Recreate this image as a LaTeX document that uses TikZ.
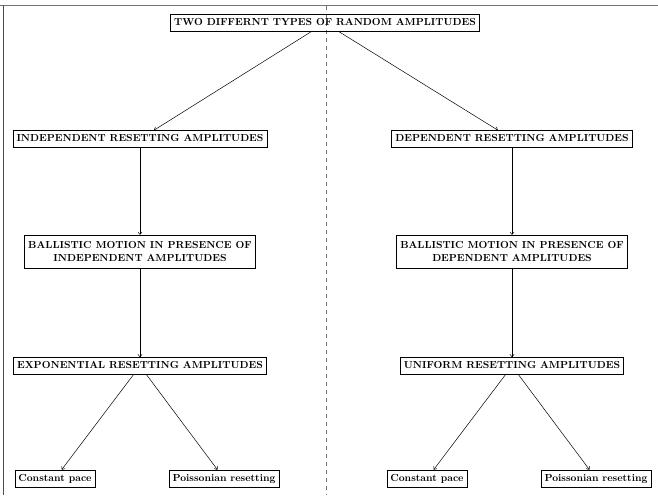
\documentclass[tikz,border=0pt]{standalone}
\usetikzlibrary{arrows.meta}
\begin{document}
\begin{tikzpicture}[x=1pt,y=-1pt,
  boxbase/.style={draw=black,line width=0.7pt,font=\fontsize{10.2}{13}\selectfont\bfseries,
    inner xsep=3.5pt,align=center},
  box/.style={boxbase,text height=7.5pt,text depth=2.5pt,inner ysep=3.5pt},
  boxtwo/.style={boxbase,inner ysep=6.3pt},
  arr/.style={-{To[length=3pt,width=4.5pt]},line width=0.5pt},
  frame/.style={black!55,line width=1.2pt}]
\useasboundingbox (0,0) rectangle (658,495);
\draw[frame] (0,5.5) -- (658,5.5);
\draw[black!70,line width=0.8pt] (3.5,5) -- (3.5,495);
\draw[black!55,line width=1pt,dash pattern=on 4pt off 4pt] (326,6) -- (326,495);

\node[box] (top) at (325,23) {TWO DIFFERNT TYPES OF RANDOM AMPLITUDES};
\node[box] (ind) at (140,139) {INDEPENDENT RESETTING AMPLITUDES};
\node[box] (dep) at (512,139) {DEPENDENT RESETTING AMPLITUDES};
\node[boxtwo] (bi) at (140,251.5) {BALLISTIC MOTION IN PRESENCE OF\\INDEPENDENT AMPLITUDES};
\node[boxtwo] (bd) at (512,251.5) {BALLISTIC MOTION IN PRESENCE OF\\DEPENDENT AMPLITUDES};
\node[box] (ex) at (140,366) {EXPONENTIAL RESETTING AMPLITUDES};
\node[box] (un) at (512,366) {UNIFORM RESETTING AMPLITUDES};
\node[box] (cl) at (55,478.5) {Constant pace};
\node[box] (pl) at (224,478.5) {Poissonian resetting};
\node[box] (cr) at (427,478.5) {Constant pace};
\node[box] (pr) at (596,478.5) {Poissonian resetting};

\draw[arr] (top) -- (ind);
\draw[arr] (top) -- (dep);
\draw[arr] (ind) -- (bi);
\draw[arr] (dep) -- (bd);
\draw[arr] (bi) -- (ex);
\draw[arr] (bd) -- (un);
\draw[arr] (ex) -- (cl);
\draw[arr] (ex) -- (pl);
\draw[arr] (un) -- (cr);
\draw[arr] (un) -- (pr);
\end{tikzpicture}
\end{document}
